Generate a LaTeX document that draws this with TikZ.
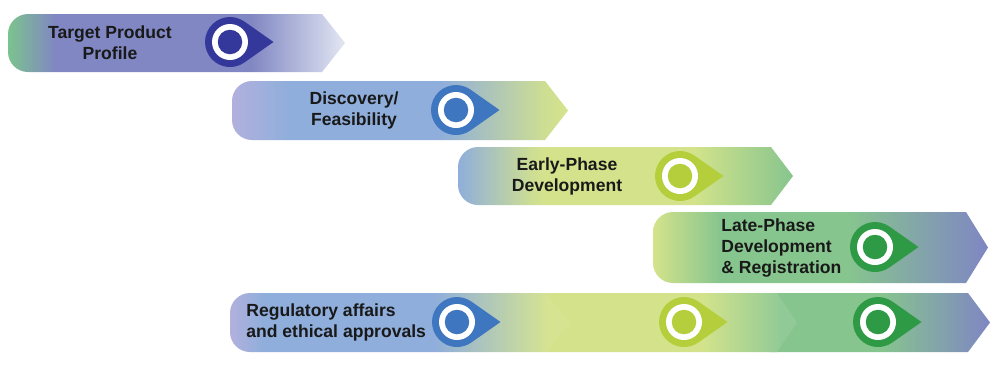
\documentclass[tikz,border=0pt]{standalone}
\usepackage{fontspec}
\setmainfont{Liberation Sans}
\usetikzlibrary{positioning}

\definecolor{tppA}{HTML}{7CC38E}\definecolor{tppB}{HTML}{8087C2}\definecolor{tppC}{HTML}{E2E6F3}
\definecolor{lav}{HTML}{B2B0DD}\definecolor{sky}{HTML}{8FAEDB}\definecolor{lime}{HTML}{D4E38B}
\definecolor{leaf}{HTML}{87C58E}\definecolor{plum}{HTML}{7F86C3}
\definecolor{pinA}{HTML}{33389A}\definecolor{pinB}{HTML}{3E77C0}\definecolor{pinC}{HTML}{B4CF3B}
\definecolor{pinD}{HTML}{2F9A46}

% shadings: the part 25bp..75bp covers the bar
\pgfdeclarehorizontalshading{tppshade}{100bp}{color(0bp)=(tppA); color(25bp)=(tppA);
  color(32bp)=(tppB); color(61bp)=(tppB); color(75bp)=(tppC); color(100bp)=(tppC)}
\pgfdeclarehorizontalshading{discshade}{100bp}{color(0bp)=(lav); color(25bp)=(lav);
  color(33.5bp)=(sky); color(56bp)=(sky); color(71.5bp)=(lime!90!sky); color(75bp)=(lime); color(100bp)=(lime)}
\pgfdeclarehorizontalshading{earlyshade}{100bp}{color(0bp)=(sky); color(25bp)=(sky);
  color(36bp)=(lime!90!sky); color(38bp)=(lime); color(60bp)=(lime); color(75bp)=(leaf); color(100bp)=(leaf)}
\pgfdeclarehorizontalshading{lateshade}{100bp}{color(0bp)=(lime); color(25bp)=(lime);
  color(35bp)=(leaf); color(54bp)=(leaf); color(75bp)=(plum); color(100bp)=(plum)}
\pgfdeclarehorizontalshading{regshadeA}{100bp}{color(0bp)=(lav); color(25bp)=(lav);
  color(30bp)=(sky); color(55bp)=(sky); color(72bp)=(lime!95!white); color(100bp)=(lime!95!white)}
\pgfdeclarehorizontalshading{regshadeB}{100bp}{color(0bp)=(lime); color(25bp)=(lime);
  color(56bp)=(lime); color(72bp)=(leaf!92!white); color(100bp)=(leaf!92!white)}
\pgfdeclarehorizontalshading{regshadeC}{100bp}{color(0bp)=(leaf); color(25bp)=(leaf);
  color(50bp)=(leaf); color(75bp)=(plum); color(100bp)=(plum)}

\tikzset{
  phasetxt/.style={font=\bfseries\fontsize{10}{12}\selectfont, text=black!90,
    align=center, inner sep=0pt},
  phaseleft/.style={phasetxt, align=left, anchor=west},
}
% bar: left, body end, tip, top, bottom, shading
\newcommand{\phasebar}[6]{%
  \path[shading=#6] (#3,{(#4+#5)/2}) -- (#2,#4) -- ({#1+20},#4)
    .. controls ({#1+9},#4) and (#1,{#4+9}) .. (#1,{#4+20}) -- (#1,{#5-20})
    .. controls (#1,{#5-9}) and ({#1+9},#5) .. ({#1+20},#5) -- (#2,#5) -- cycle;}
% segment with a straight left end (under the one before it)
\newcommand{\regseg}[6]{%
  \path[shading=#6] (#3,{(#4+#5)/2}) -- (#2,#4) -- (#1,#4) -- (#1,#5) -- (#2,#5) -- cycle;}
% pin: centre coordinate name, colour
\newcommand{\pin}[2]{%
  \fill[#2] ([xshift=8.7mm]#1) -- ([shift={(55:5mm)}]#1)
    arc[start angle=55, end angle=305, radius=5mm] -- cycle;
  \fill[white] (#1) circle[radius=3.6mm];
  \fill[#2] (#1) circle[radius=2.45mm];}

\begin{document}
\begin{tikzpicture}[x=0.02cm, y=-0.02cm]
\fill[white] (0,0) rectangle (1000,366);
\useasboundingbox (0,0) rectangle (1000,366);

% ── Target product profile ─────────────────────────────────
\phasebar{8}{322}{345}{14}{72}{tppshade}
\coordinate (pin1) at (230,42);
\pin{pin1}{pinA}
\node[phasetxt] (tpp) at (110,43) {Target Product\\Profile};

% ── Discovery ──────────────────────────────────────────────
\phasebar{232}{545}{568}{81}{140}{discshade}
\coordinate (pin2) at (456,110);
\pin{pin2}{pinB}
\node[phasetxt] (disc) at (354,110) {Discovery/\\Feasibility};

% ── Early phase ────────────────────────────────────────────
\phasebar{458}{771}{793}{147}{205}{earlyshade}
\coordinate (pin3) at (680,176);
\pin{pin3}{pinC}
\node[phasetxt] (early) at (567,176) {Early-Phase\\Development};

% ── Late phase ─────────────────────────────────────────────
\phasebar{653}{966}{988}{212}{283}{lateshade}
\coordinate (pin4) at (875,247);
\pin{pin4}{pinD}
\node[phaseleft] (late) at (721,248) {Late-Phase\\Development\\\& Registration};

% ── Regulatory (three segments, right one first) ───────────
\regseg{770}{968}{990}{293}{352}{regshadeC}
\regseg{546}{777}{797}{293}{352}{regshadeB}
\phasebar{230}{546}{570}{293}{352}{regshadeA}
\coordinate (pin5) at (457,322);
\coordinate (pin6) at (684,322);
\coordinate (pin7) at (878,322);
\pin{pin5}{pinB}
\pin{pin6}{pinC}
\pin{pin7}{pinD}
\node[phaseleft] (reg) at (246,322) {Regulatory affairs\\and ethical approvals};

\end{tikzpicture}
\end{document}
